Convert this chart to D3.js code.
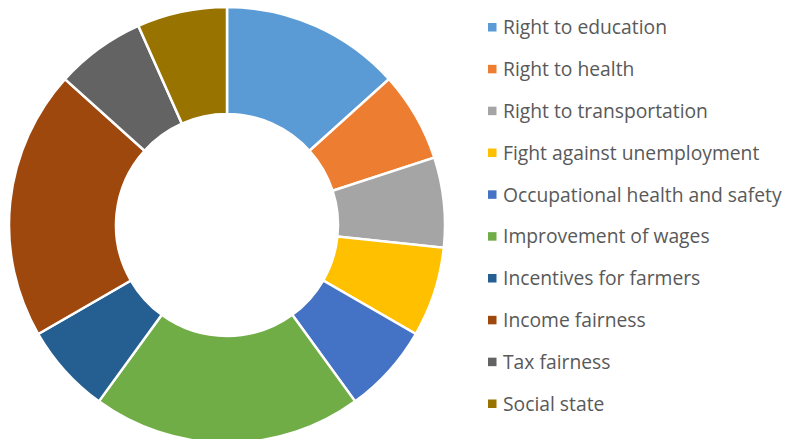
<!DOCTYPE html>
<html>
<head>
	<title>Donut</title>
	<script src="https://d3js.org/d3.v7.min.js"></script>
	<style>
		body { margin: 0; background: #fff; }
	</style>
</head>
<body>
<script>
// data
var categories = ["Right to education", "Right to health", "Right to transportation",
  "Fight against unemployment", "Occupational health and safety", "Improvement of wages",
  "Incentives for farmers", "Income fairness", "Tax fairness", "Social state"];
var values = [2, 1, 1, 1, 1, 3, 1, 3, 1, 1];
var colors = ["#5B9BD5", "#ED7D31", "#A5A5A5", "#FFC000", "#4472C4",
  "#70AD47", "#255E91", "#9E480E", "#636363", "#997300"];

var width = 787, height = 439;
var svg = d3.select("body")
       .append("svg")
       .attr("width", width)
       .attr("height", height);

var data = categories.map(function(c, i) { return {name: c, value: values[i]}; });

var pie = d3.pie().sort(null).value(function(d) { return d.value; });
var arc = d3.arc().innerRadius(111).outerRadius(218);

var g = svg.append("g").attr("transform", "translate(227,225)");
g.selectAll("path").data(pie(data))
  .enter().append("path")
    .attr("d", arc)
    .attr("fill", function(d, i) { return colors[i]; })
    .attr("stroke", "#fff")
    .attr("stroke-width", 2.5);

// legend
var ly = d3.scalePoint().domain(categories).range([27.5, 404]);
var leg = svg.append("g").selectAll("g").data(categories)
  .enter().append("g")
    .attr("transform", function(d) { return "translate(488," + ly(d) + ")"; });
leg.append("rect")
    .attr("x", 0).attr("y", -4.5)
    .attr("width", 8.5).attr("height", 8.5)
    .attr("fill", function(d, i) { return colors[i]; });
leg.append("text")
    .attr("x", 15).attr("y", 0)
    .attr("dy", "0.35em")
    .attr("fill", "#595959")
    .style("font-family", "'Open Sans', sans-serif")
    .style("font-size", "19.3px")
    .text(function(d) { return d; });
</script>
</body>
</html>
